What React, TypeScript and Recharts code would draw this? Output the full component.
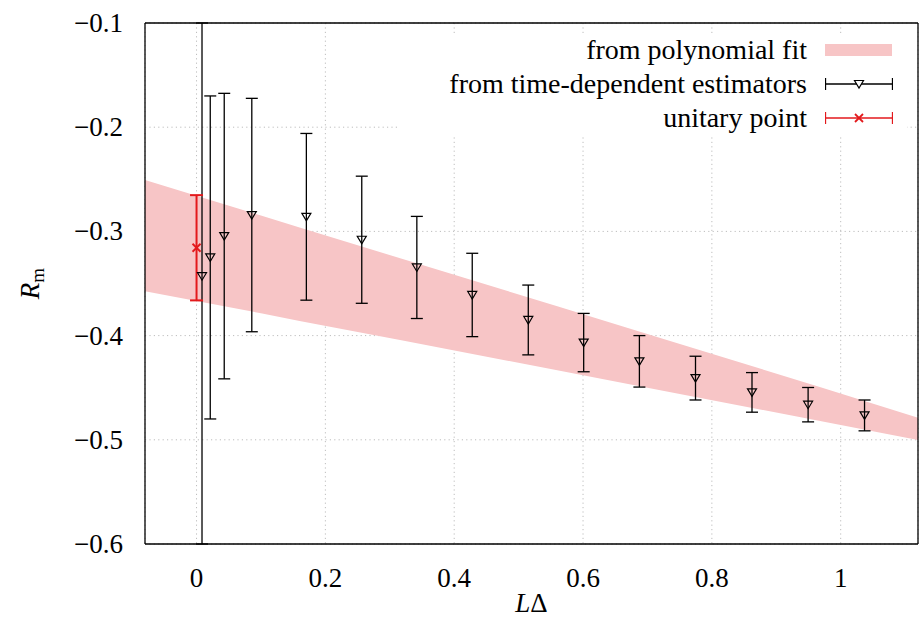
import { ComposedChart, Area, Scatter, ErrorBar, XAxis, YAxis, CartesianGrid, Legend, Label } from 'recharts';

// time-dependent estimators
const lDelta = [0.0085, 0.0213, 0.043, 0.0858, 0.1705, 0.2565, 0.342, 0.428, 0.515, 0.601, 0.6875, 0.7746, 0.8623, 0.9494, 1.037];
const rm = [-0.343, -0.325, -0.3045, -0.2843, -0.286, -0.308, -0.3346, -0.361, -0.385, -0.4067, -0.4247, -0.4408, -0.4545, -0.4663, -0.4766];
// first point: error runs past both frame edges, so it is cut at the frame
const rmErr: (number | number[])[] = [[0.257, 0.243], 0.155, 0.137, 0.112, 0.08, 0.061, 0.049, 0.04, 0.0335, 0.028, 0.0247, 0.021, 0.019, 0.0165, 0.0148];

// unitary point
const unitaryX = [0];
const unitaryY = [-0.3157];
const unitaryErr = [0.0505];

// polynomial fit band
const fitX = [-0.08, 0.1, 0.16, 0.32, 0.56, 0.72, 0.97, 1.12];
const fitLow = [-0.3574, -0.3785, -0.386, -0.4048, -0.4333, -0.4524, -0.4822, -0.5003];
const fitHigh = [-0.2507, -0.2848, -0.2962, -0.3265, -0.3718, -0.4022, -0.4497, -0.4789];

const xTicks = [0, 0.2, 0.4, 0.6, 0.8, 1];
const yTicks = [-0.6, -0.5, -0.4, -0.3, -0.2, -0.1];

const estimators = lDelta.map((x, i) => ({ x, y: rm[i], err: rmErr[i] }));
const unitary = unitaryX.map((x, i) => ({ x, y: unitaryY[i], err: unitaryErr[i] }));
const fitBand = fitX.map((x, i) => ({ x, range: [fitLow[i], fitHigh[i]] }));

const FONT = "'Liberation Serif', 'DejaVu Serif', serif";
const PINK = '#f7c5c6';
const RED = '#e3191c';
const GRID = '#bdbdbd';

const fmt = (v: number) => (v < 0 ? '\u2212' + Math.abs(v) : String(v));

const TriangleDown = (props: any) => {
  const { cx, cy } = props;
  if (cx == null || cy == null) return null;
  return <path d={`M${cx - 4.5},${cy - 3.5}L${cx + 4.5},${cy - 3.5}L${cx},${cy + 4}Z`} fill="none" stroke="#000" strokeWidth={1.2} />;
};

const Cross = (props: any) => {
  const { cx, cy } = props;
  if (cx == null || cy == null) return null;
  return (
    <g stroke={RED} strokeWidth={1.8}>
      <line x1={cx - 4} y1={cy - 4} x2={cx + 4} y2={cy + 4} />
      <line x1={cx - 4} y1={cy + 4} x2={cx + 4} y2={cy - 4} />
    </g>
  );
};

const XTick = (props: any) => {
  const { x, y, payload } = props;
  return <text x={x} y={y} dy={9} textAnchor="middle" fontFamily={FONT} fontSize={27} fill="#000">{fmt(payload.value)}</text>;
};

const YTick = (props: any) => {
  const { x, y, payload } = props;
  return <text x={x} y={y} dy={9} textAnchor="end" fontFamily={FONT} fontSize={27} fill="#000">{fmt(payload.value)}</text>;
};

const RmLabel = (props: any) => {
  const { viewBox } = props;
  const cx = viewBox.x + 30;
  const cy = viewBox.y + viewBox.height / 2;
  return (
    <text x={cx} y={cy} transform={`rotate(-90, ${cx}, ${cy})`} textAnchor="middle" dy={9} fontFamily={FONT} fontSize={27} fill="#000">
      <tspan fontStyle="italic">R</tspan>
      <tspan fontSize={19} dy={5}>m</tspan>
    </text>
  );
};

const LDeltaLabel = (props: any) => {
  const { viewBox } = props;
  const cx = viewBox.x + viewBox.width / 2;
  const cy = viewBox.y + 59;
  return (
    <text x={cx} y={cy} dy={9} textAnchor="middle" fontFamily={FONT} fontSize={27} fill="#000">
      <tspan fontStyle="italic">L</tspan>
      <tspan>Δ</tspan>
    </text>
  );
};

const BarSymbol = ({ color, marker }: { color: string; marker: 'tri' | 'x' }) => (
  <svg width={68} height={34}>
    <g stroke={color} strokeWidth={1.3} fill="none">
      <line x1={0.5} y1={17} x2={67.5} y2={17} />
      <line x1={0.5} y1={11} x2={0.5} y2={23} />
      <line x1={67.5} y1={11} x2={67.5} y2={23} />
      {marker === 'tri' ? (
        <path d="M29.5,13.5L38.5,13.5L34,21Z" fill="#fff" strokeWidth={1.2} />
      ) : (
        <g strokeWidth={1.8}>
          <line x1={30} y1={13} x2={38} y2={21} />
          <line x1={30} y1={21} x2={38} y2={13} />
        </g>
      )}
    </g>
  </svg>
);

const legendRows = [
  { name: 'from polynomial fit', kind: 'band' },
  { name: 'from time-dependent estimators', kind: 'tri' },
  { name: 'unitary point', kind: 'x' },
];

const LegendBox = () => (
  <div style={{ fontFamily: FONT, fontSize: 28, color: '#000', background: '#fff' }}>
    {legendRows.map((r) => (
      <div key={r.name} style={{ display: 'flex', alignItems: 'center', height: 34 }}>
        <div style={{ width: 409, textAlign: 'right', whiteSpace: 'nowrap', lineHeight: '34px' }}>{r.name}</div>
        <div style={{ marginLeft: 18, width: 68, height: 34, display: 'flex', alignItems: 'center' }}>
          {r.kind === 'band' ? (
            <div style={{ width: 67, height: 12, background: PINK }} />
          ) : (
            <BarSymbol color={r.kind === 'x' ? RED : '#000'} marker={r.kind === 'x' ? 'x' : 'tri'} />
          )}
        </div>
      </div>
    ))}
  </div>
);

export default function App() {
  return (
    <div style={{ position: 'absolute', left: 0, top: 0, background: '#fff' }}>
      <ComposedChart width={920} height={620} margin={{ top: 23, right: 2, bottom: 0, left: 0 }}>
        <XAxis xAxisId="b" type="number" dataKey="x" domain={[-0.08, 1.12]} ticks={xTicks} allowDataOverflow
          height={76} tickLine={false} tickSize={0} tickMargin={34} tick={<XTick />}
          axisLine={{ stroke: '#000', strokeWidth: 1.3 }} label={<Label content={LDeltaLabel} />} />
        <XAxis xAxisId="bi" type="number" dataKey="x" domain={[-0.08, 1.12]} ticks={xTicks} allowDataOverflow
          mirror tick={false} tickSize={10} axisLine={false} tickLine={{ stroke: '#000', strokeWidth: 1.2 }} />
        <XAxis xAxisId="t" orientation="top" type="number" dataKey="x" domain={[-0.08, 1.12]} ticks={xTicks} allowDataOverflow
          mirror tick={false} tickSize={10} axisLine={{ stroke: '#000', strokeWidth: 1.3 }} tickLine={{ stroke: '#000', strokeWidth: 1.2 }} />
        <YAxis yAxisId="l" type="number" domain={[-0.6, -0.1]} ticks={yTicks} allowDataOverflow
          width={145} tickLine={false} tickSize={0} tickMargin={22} tick={<YTick />}
          axisLine={{ stroke: '#000', strokeWidth: 1.3 }} label={<Label content={RmLabel} />} />
        <YAxis yAxisId="li" type="number" domain={[-0.6, -0.1]} ticks={yTicks} allowDataOverflow
          mirror tick={false} tickSize={10} axisLine={false} tickLine={{ stroke: '#000', strokeWidth: 1.2 }} />
        <YAxis yAxisId="r" orientation="right" type="number" domain={[-0.6, -0.1]} ticks={yTicks} allowDataOverflow
          mirror tick={false} tickSize={10} axisLine={{ stroke: '#000', strokeWidth: 1.3 }} tickLine={{ stroke: '#000', strokeWidth: 1.2 }} />

        <Area xAxisId="b" yAxisId="l" data={fitBand} dataKey="range" type="linear" stroke="none"
          fill={PINK} fillOpacity={1} isAnimationActive={false} legendType="none" />
        <CartesianGrid xAxisId="b" yAxisId="l" stroke={GRID} strokeDasharray="1.2 3.2" strokeWidth={1} />

        <Scatter xAxisId="b" yAxisId="l" data={estimators} dataKey="y" shape={<TriangleDown />} isAnimationActive={false}>
          <ErrorBar dataKey="err" direction="y" width={6} stroke="#000" strokeWidth={1.3} isAnimationActive={false} />
        </Scatter>
        <Scatter xAxisId="b" yAxisId="l" data={unitary} dataKey="y" shape={<Cross />} isAnimationActive={false}>
          <ErrorBar dataKey="err" direction="y" width={6.5} stroke={RED} strokeWidth={2} isAnimationActive={false} />
        </Scatter>

        <Legend layout="vertical" align="center" verticalAlign="middle" content={<LegendBox />}
          wrapperStyle={{ position: 'absolute', left: 398, top: 33, width: 509, height: 102, margin: 0, background: '#fff' }} />
      </ComposedChart>
    </div>
  );
}
